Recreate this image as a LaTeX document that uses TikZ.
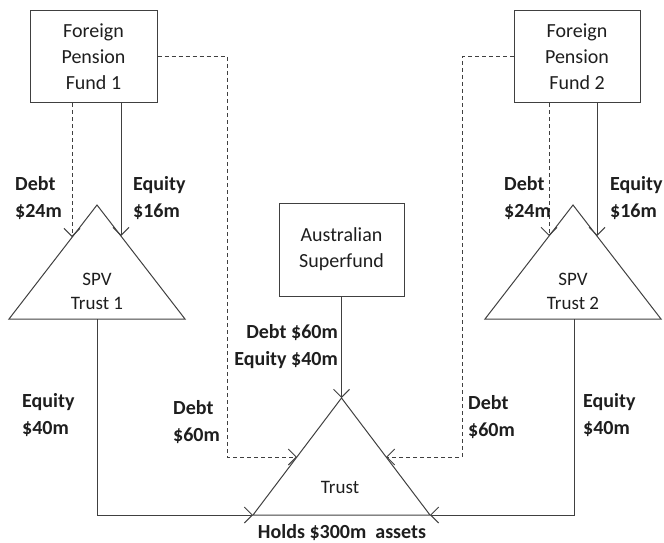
\documentclass[tikz,border=0pt]{standalone}
\usepackage{fontspec}
\setmainfont{Carlito}
\usetikzlibrary{arrows.meta}
\definecolor{linec}{RGB}{64,64,64}
\definecolor{txtc}{RGB}{30,30,30}
\begin{document}
\begin{tikzpicture}[x=1pt,y=-1pt,
  box/.style={draw=linec, line width=1pt, align=center, inner sep=0pt,
    font=\fontsize{20}{26}\selectfont, text=txtc},
  lbl/.style={font=\bfseries\fontsize{20}{27}\selectfont, inner sep=0pt, text=txtc},
  tri/.style={draw=linec, line width=1pt, line join=miter},
  intext/.style={font=\fontsize{19}{24}\selectfont, align=center, inner sep=0pt, text=txtc},
  conn/.style={draw=linec, line width=1pt, -{Straight Barb[length=8pt,width=16pt]}},
  debt/.style={conn, dash pattern=on 4pt off 3pt}]
\useasboundingbox (0,0) rectangle (664,543);

% boxes
\node[box, minimum width=127pt, minimum height=92pt] (f1) at (93.5,56.5) {Foreign\\Pension\\Fund 1};
\node[box, minimum width=126pt, minimum height=92pt] (f2) at (577,56.5) {Foreign\\Pension\\Fund 2};
\node[box, minimum width=125pt, minimum height=93pt] (aus) at (341.5,249.5) {Australian\\Superfund};

% SPV Trust 1
\coordinate (s1L) at (9,319);
\coordinate (s1A) at (97,205);
\coordinate (s1R) at (185,319);
\draw[tri] (s1L) -- (s1A) -- (s1R) -- cycle;
\node[intext] (s1t) at (97,291) {SPV\\Trust 1};

% SPV Trust 2
\coordinate (s2L) at (485,319);
\coordinate (s2A) at (573,205);
\coordinate (s2R) at (661,319);
\draw[tri] (s2L) -- (s2A) -- (s2R) -- cycle;
\node[intext] (s2t) at (573,291) {SPV\\Trust 2};

% Trust
\coordinate (tL) at (253,515);
\coordinate (tA) at (341.5,398);
\coordinate (tR) at (430,515);
\draw[tri] (tL) -- (tA) -- (tR) -- cycle;
\node[intext] (tt) at (340,487) {Trust};
\node[lbl] (hold) at (342,533) {Holds \$300m\ \ assets};

% arrow end points
\coordinate (s1d) at (72,237);
\coordinate (s1e) at (121,236);
\coordinate (s2d) at (549,236);
\coordinate (s2e) at (597,236);
\coordinate (s1b) at (97,319);
\coordinate (s2b) at (574,319);
\coordinate (tLs) at (297,457);
\coordinate (tRs) at (386,457);
\coordinate (k1) at (227,457);
\coordinate (k2) at (462,457);

% connectors FPF1
\draw[debt] (f1.south -| s1d) -- (s1d);
\draw[conn] (f1.south -| s1e) -- (s1e);
\draw[debt] (f1.east) -| (k1) -- (tLs);
% connectors FPF2
\draw[debt] (f2.south -| s2d) -- (s2d);
\draw[conn] (f2.south -| s2e) -- (s2e);
\draw[debt] (f2.west) -| (k2) -- (tRs);
% Australian superfund
\draw[conn] (aus.south) -- (tA);
% SPV to Trust
\draw[conn] (s1b) |- (tL);
\draw[conn] (s2b) |- (tR);

% labels
\node[lbl, anchor=west, align=left] (l1) at (15,198.5) {Debt\\\$24m};
\node[lbl, anchor=west, align=left] (l2) at (133,198.5) {Equity\\\$16m};
\node[lbl, anchor=west, align=left] (l3) at (504,198.5) {Debt\\\$24m};
\node[lbl, anchor=west, align=left] (l4) at (610,198.5) {Equity\\\$16m};
\node[lbl, anchor=east, align=right] (l5) at (338,347) {Debt \$60m\\Equity \$40m};
\node[lbl, anchor=west, align=left] (l6) at (173,422) {Debt\\\$60m};
\node[lbl, anchor=west, align=left] (l7) at (22,415.5) {Equity\\\$40m};
\node[lbl, anchor=west, align=left] (l8) at (468,417) {Debt\\\$60m};
\node[lbl, anchor=west, align=left] (l9) at (583,415) {Equity\\\$40m};
\end{tikzpicture}
\end{document}
